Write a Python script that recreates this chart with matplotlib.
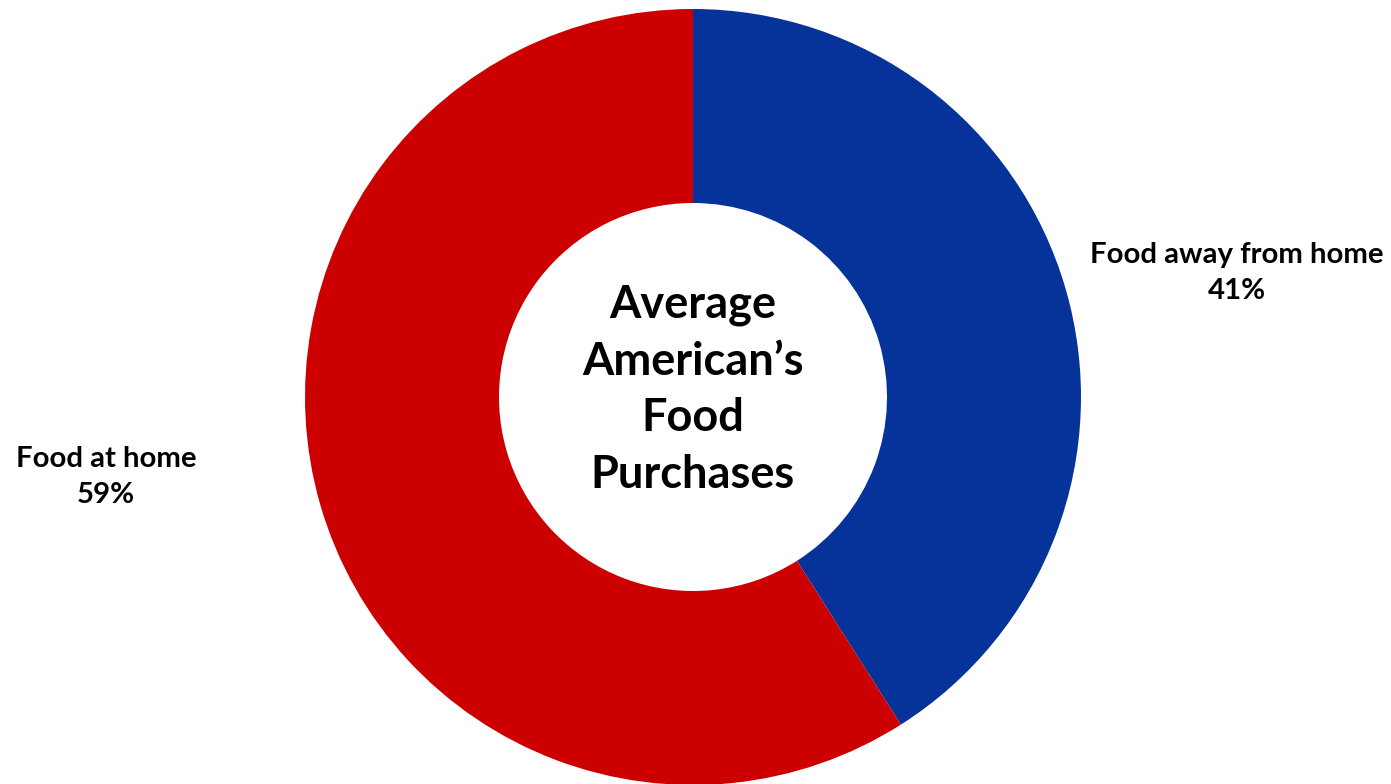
import matplotlib
matplotlib.use("Agg")
import matplotlib.pyplot as plt

categories = ["Food away from home", "Food at home"]
values = [41, 59]
colors = ["#063399", "#CC0000"]
center_title = "Average\nAmerican\u2019s\nFood\nPurchases"

W, H = 1391, 784
fig = plt.figure(figsize=(W / 100, H / 100), dpi=100)
plt.rcParams['font.family'] = ['Lato', 'DejaVu Sans']

R = 388
cx, cy = 693, H - 397
ax = fig.add_axes([(cx - R) / W, (cy - R) / H, 2 * R / W, 2 * R / H])
ax.pie(values, colors=colors, startangle=90, counterclock=False, radius=1,
       wedgeprops=dict(width=0.5, edgecolor='none'))
ax.set_xlim(-1, 1)
ax.set_ylim(-1, 1)
ax.set_aspect('equal')
ax.axis('off')

def px(x, y):
    return ((x - cx) / R, (H - y - cy) / R)

tx, ty = px(693, 390)
ax.text(tx, ty, center_title, ha='center', va='center', fontsize=32.5,
        fontweight='bold', linespacing=1.43)

lx, ly = px(1237, 273)
ax.text(lx, ly, f"{categories[0]}\n{values[0]}%", ha='center', va='center',
        fontsize=21.2, fontweight='bold', linespacing=1.52, clip_on=False)
lx, ly = px(106, 477)
ax.text(lx, ly, f"{categories[1]}\n{values[1]}%", ha='center', va='center',
        fontsize=21.2, fontweight='bold', linespacing=1.52, clip_on=False)

fig.savefig("out.png", dpi=100)
